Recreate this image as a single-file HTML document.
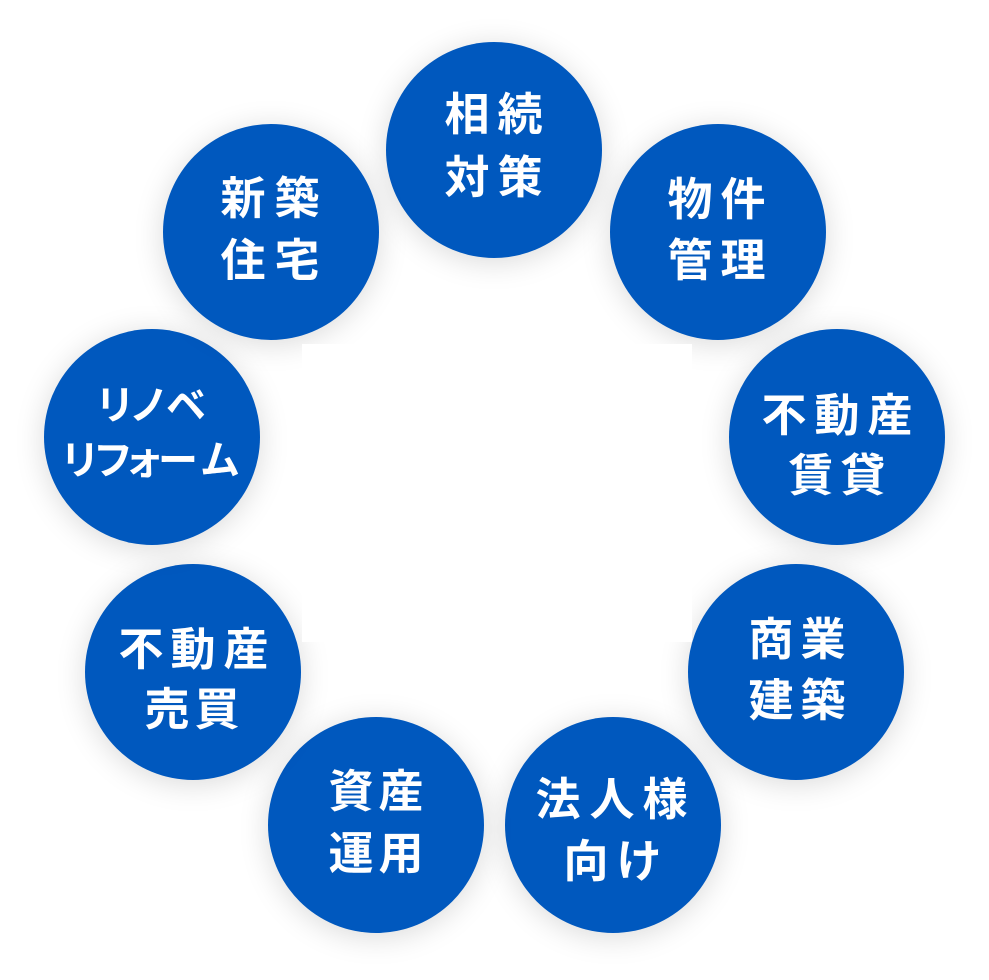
<!DOCTYPE html>
<html><head><meta charset="utf-8">
<style>
html,body{margin:0;padding:0;background:#fff;}
body{width:989px;height:980px;position:relative;overflow:hidden;font-family:"Liberation Sans","Noto Sans CJK JP",sans-serif;}
.c{position:absolute;width:216px;height:216px;border-radius:50%;background:#0058be;box-shadow:0 4px 30px rgba(0,0,0,0.15);}
.rect{position:absolute;left:302px;top:344px;width:390px;height:298px;background:#fff;}
.t{position:absolute;width:60px;height:45px;line-height:45px;font-size:45px;font-weight:bold;color:#fff;text-align:center;}
.k{font-size:40px;}
</style></head><body>
<div class="c" style="left:386px;top:42px"></div>
<div class="c" style="left:610px;top:124px"></div>
<div class="c" style="left:729px;top:329px"></div>
<div class="c" style="left:688px;top:564px"></div>
<div class="c" style="left:505px;top:717px"></div>
<div class="c" style="left:268px;top:717px"></div>
<div class="c" style="left:85px;top:564px"></div>
<div class="c" style="left:44px;top:329px"></div>
<div class="c" style="left:163px;top:124px"></div>
<div class="rect"></div>

<!-- 相続対策 -->
<div class="t" style="left:437px;top:92px">相</div>
<div class="t" style="left:490px;top:92px">続</div>
<div class="t" style="left:437px;top:155px">対</div>
<div class="t" style="left:490px;top:155px">策</div>

<!-- 新築住宅 -->
<div class="t" style="left:213px;top:176px">新</div>
<div class="t" style="left:267px;top:176px">築</div>
<div class="t" style="left:213px;top:238px">住</div>
<div class="t" style="left:267px;top:238px">宅</div>

<!-- 物件管理 -->
<div class="t" style="left:660px;top:177px">物</div>
<div class="t" style="left:713px;top:177px">件</div>
<div class="t" style="left:660px;top:238px">管</div>
<div class="t" style="left:713px;top:238px">理</div>

<!-- 不動産賃貸 -->
<div class="t" style="left:754px;top:393px">不</div>
<div class="t" style="left:807px;top:393px">動</div>
<div class="t" style="left:860px;top:393px">産</div>
<div class="t" style="left:781px;top:453px">賃</div>
<div class="t" style="left:833px;top:453px">貸</div>

<!-- 商業建築 -->
<div class="t" style="left:741px;top:617px">商</div>
<div class="t" style="left:793px;top:617px">業</div>
<div class="t" style="left:741px;top:678px">建</div>
<div class="t" style="left:793px;top:678px">築</div>

<!-- 法人様向け -->
<div class="t" style="left:528px;top:777px">法</div>
<div class="t" style="left:582px;top:777px">人</div>
<div class="t" style="left:635px;top:777px">様</div>
<div class="t" style="left:556px;top:839px">向</div>
<div class="t" style="left:609px;top:839px">け</div>

<!-- 資産運用 -->
<div class="t" style="left:321px;top:769px">資</div>
<div class="t" style="left:371px;top:769px">産</div>
<div class="t" style="left:321px;top:831px">運</div>
<div class="t" style="left:371px;top:831px">用</div>

<!-- 不動産売買 -->
<div class="t" style="left:111px;top:627px">不</div>
<div class="t" style="left:163px;top:627px">動</div>
<div class="t" style="left:216px;top:627px">産</div>
<div class="t" style="left:137px;top:687px">売</div>
<div class="t" style="left:187px;top:687px">買</div>

<!-- リノベリフォーム -->
<div class="t k" style="left:85px;top:384px">リ</div>
<div class="t k" style="left:119px;top:384px">ノ</div>
<div class="t k" style="left:156px;top:384px">ベ</div>
<div class="t k" style="left:50px;top:439px">リ</div>
<div class="t k" style="left:83px;top:439px">フ</div>
<div class="t k" style="left:114px;top:439px">ォ</div>
<div class="t k" style="left:148px;top:439px">ー</div>
<div class="t k" style="left:190px;top:439px">ム</div>
</body></html>
